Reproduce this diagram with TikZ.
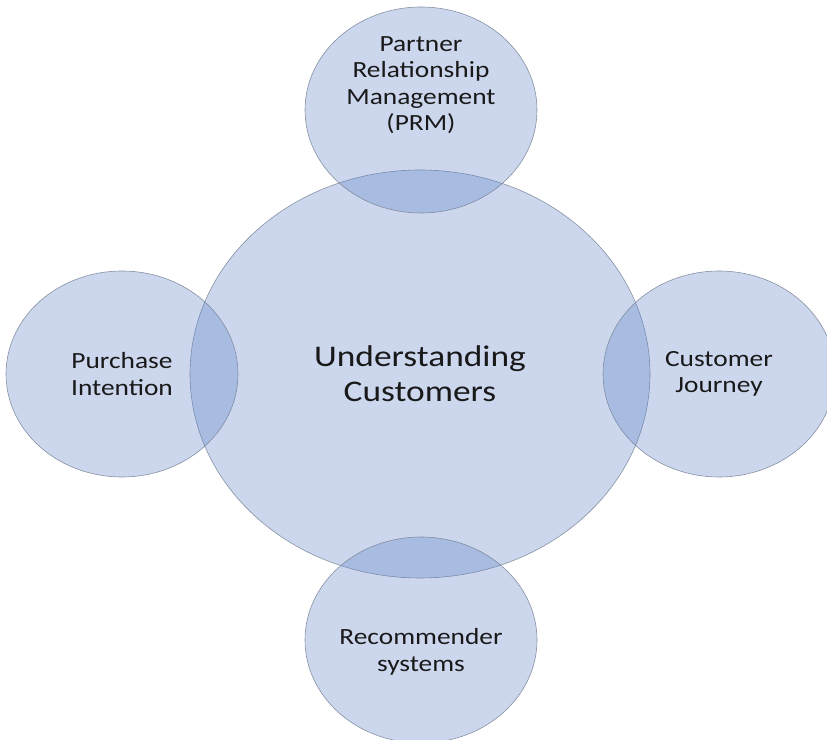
\documentclass[tikz,border=0pt]{standalone}
\usepackage{fontspec}
\setmainfont{Carlito}[FakeStretch=1.18]
\usetikzlibrary{shapes.geometric}

\definecolor{bubblefill}{RGB}{95,130,200}
\definecolor{bubbleline}{RGB}{120,130,150}
\definecolor{labeltext}{RGB}{25,25,25}

\tikzset{
  bubble/.style={ellipse, draw=bubbleline, line width=0.6pt, fill=bubblefill,
    fill opacity=0.32, draw opacity=0.85, inner sep=0pt},
  hub/.style={bubble, minimum width=460pt, minimum height=408pt},
  spoke/.style={bubble, minimum width=232pt, minimum height=206pt},
  hubtext/.style={text=labeltext, align=center, font=\fontsize{30}{35}\selectfont},
  spoketext/.style={text=labeltext, align=center, font=\fontsize{23.2}{26.5}\selectfont},
}

\begin{document}
\begin{tikzpicture}[x=1pt, y=1pt]
    \useasboundingbox (0,0) rectangle (827,739);
    \clip (0,0) rectangle (827,739);

    % the central topic and its four neighbours
    \node[hub] (hub) at (420,365) {};
    \node[spoke] (prm) at (421,629) {};
    \node[spoke] (purchase) at (122,365) {};
    \node[spoke] (journey) at (719,365) {};
    \node[spoke] (recsys) at (421,99) {};

    % texts
    \node[hubtext] (hublabel) at (hub) {Understanding\\Customers};
    \node[spoketext] (prmlabel) at ([yshift=25pt]prm.center) {Partner\\Relationship\\Management\\(PRM)};
    \node[spoketext] (purchaselabel) at (purchase) {Purchase\\Intention};
    \node[spoketext] (journeylabel) at (journey) {Customer\\Journey};
    \node[spoketext] (recsyslabel) at ([yshift=-12pt]recsys.center) {Recommender\\systems};
\end{tikzpicture}
\end{document}
